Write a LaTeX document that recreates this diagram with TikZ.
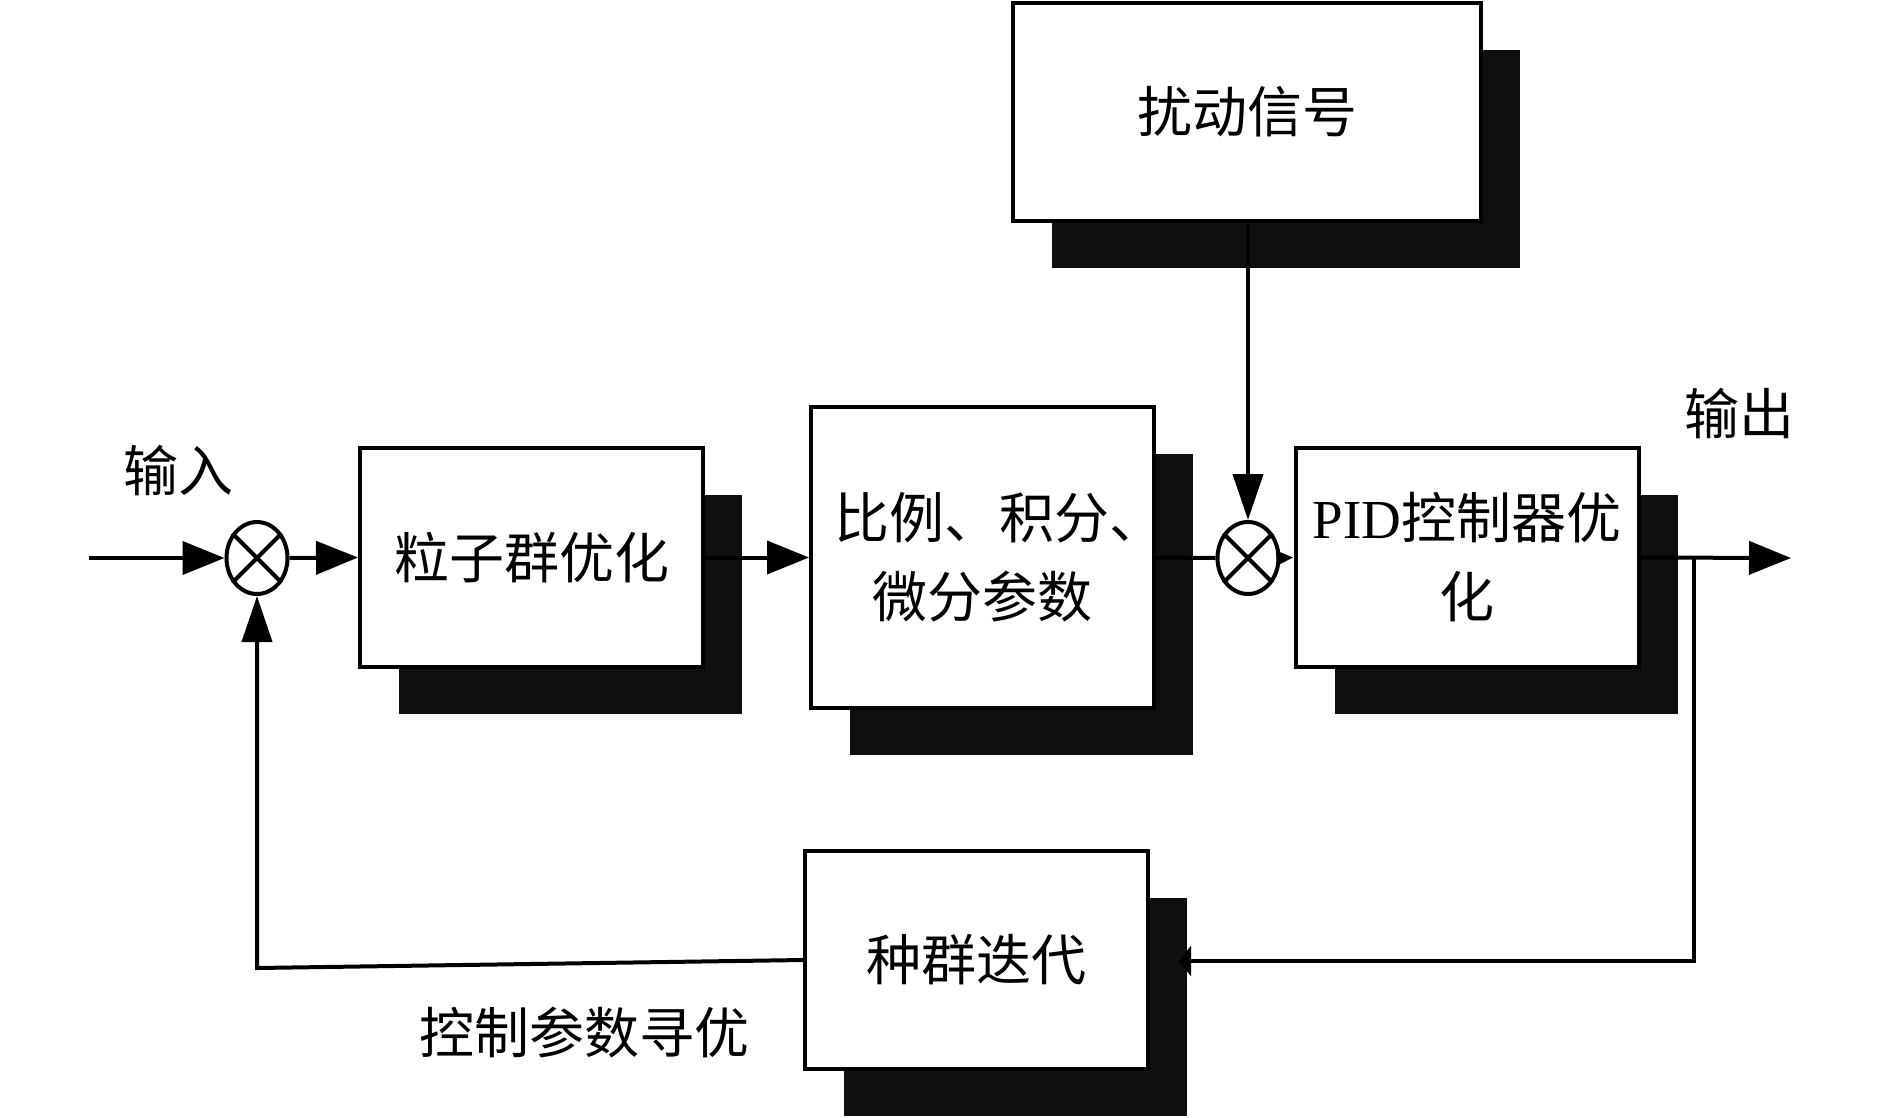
\documentclass[tikz,border=0pt]{standalone}
\usepackage{fontspec}
\setmainfont{Liberation Serif}
\newfontfamily\cjk{Noto Sans CJK SC}
\usetikzlibrary{arrows.meta,shapes.geometric,shadows}
\begin{document}
\begin{tikzpicture}[x=1pt,y=-1pt,
  blk/.style={draw, line width=4pt, fill=white, minimum width=343pt, minimum height=219pt,
    inner sep=0pt, align=center, font=\cjk\fontsize{55}{79}\selectfont,
    drop shadow={shadow xshift=39pt, shadow yshift=-47pt, opacity=1, fill=black!94}},
  sum/.style={ellipse, draw, line width=4pt, minimum width=61pt, minimum height=72pt, inner sep=0pt},
  lbl/.style={font=\cjk\fontsize{55}{79}\selectfont, inner sep=0pt},
  ln/.style={line width=4pt},
  arr/.style={ln, -{Triangle[length=42pt,width=33pt]}},
  varr/.style={ln, -{Triangle[length=46pt,width=30pt]}},
  sarr/.style={ln, -{Triangle[length=17pt,width=14pt]}}
]
\useasboundingbox (0,0) rectangle (1890,1117);
\node[blk, minimum width=468pt, minimum height=218pt] (dist) at (1247,112) {扰动信号};
\node[blk] (pso) at (531.5,557.5) {粒子群优化};
\node[blk, minimum height=301pt] (par) at (982.5,557.5) {\makebox[300pt]{\hspace*{34pt}比例、积分、}\\微分参数};
\node[blk] (pid) at (1467,557.5) {{\rmfamily PID}控制器优\\化};
\node[blk, minimum height=218pt] (pop) at (976.5,960) {种群迭代};
\node[sum] (s1) at (257,558) {};
\node[sum] (s2) at (1248,558) {};
\draw[ln] (s1.45) -- (s1.225) (s1.135) -- (s1.315);
\draw[ln] (s2.45) -- (s2.225) (s2.135) -- (s2.315);
\node[lbl] (lin) at (178,470) {输入};
\node[lbl] (lout) at (1739,413) {输出};
\node[lbl] (lopt) at (584,1033) {控制参数寻优};
\coordinate (in) at (89,558);
\coordinate (out) at (1791,558);
\coordinate (fb) at (1694,558);
\coordinate (popr) at (1179,961);
\coordinate (fbl) at (257,968);
\draw[arr] (in) -- (s1.west);
\draw[arr] (s1.east) -- (pso.west);
\draw[arr] (pso.east) -- (par.west);
\draw[ln] (par.east) -- (s2.west);
\draw[sarr] (s2.east) -- (pid.west);
\draw[varr] (dist.south -| s2) -- (s2.north);
\draw[arr] (pid.east) -- (out);
\draw[ln, -{Triangle[length=12pt,width=30pt]}] (fb) |- (popr);
\draw[varr] (pop.west) -- (fbl) -- (s1.south);
\end{tikzpicture}
\end{document}
